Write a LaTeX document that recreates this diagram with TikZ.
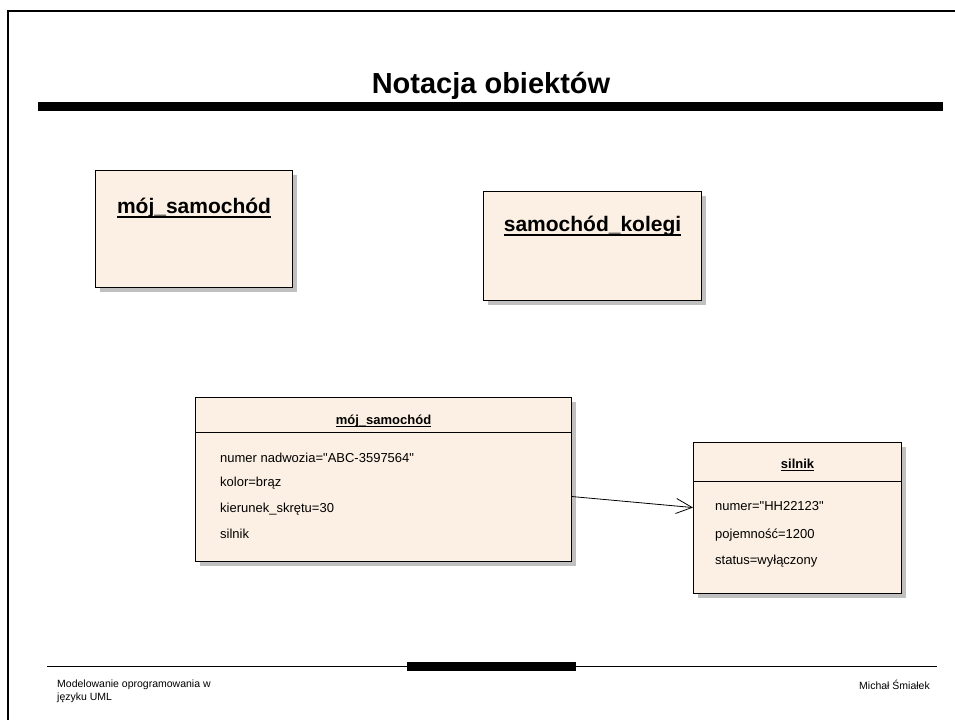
\documentclass[tikz,border=0pt]{standalone}
\usepackage{fontspec}
\setmainfont{Liberation Sans}
\newfontfamily\plainfont{Liberation Sans}
\usetikzlibrary{positioning,shadows,arrows.meta}
\definecolor{objfill}{RGB}{251,240,227}
\definecolor{shadowgray}{RGB}{192,192,192}
\newcommand\ulname[1]{\setbox0\hbox{#1}\rlap{\rule[-0.22em]{\wd0}{0.08em}}\box0}
\newcommand\qt{{\plainfont\char34}}
\tikzset{
	objbox/.style={draw, fill=objfill, line width=1.1pt, inner sep=0pt,
		general shadow={fill=shadowgray, shadow xshift=4pt, shadow yshift=-4pt}},
	bigname/.style={font=\bfseries\fontsize{21}{24}\selectfont, anchor=base, inner sep=0pt},
	objname/.style={font=\bfseries\fontsize{13}{15}\selectfont, anchor=base, inner sep=0pt},
	attr/.style={font=\fontsize{13}{15}\selectfont, anchor=base west, inner sep=0pt},
	foot/.style={font=\fontsize{10.5}{12.5}\selectfont, inner sep=0pt}
}

\begin{document}
\begin{tikzpicture}[x=1pt,y=-1pt]
		\useasboundingbox (0,0) rectangle (955,720);
		\draw[line width=2pt] (955,11) -- (8,11) -- (8,720);
		\node[font=\bfseries\fontsize{29}{34}\selectfont, anchor=base, inner sep=0pt] (title) at (491,93) {Notacja obiektów};
		\fill (38,102) rectangle (943,111);
		% simple objects
		\node[objbox, anchor=north west, minimum width=197pt, minimum height=117pt] (mojA) at (95,170) {};
		\node[bigname] (mojAname) at ([yshift=-43pt]mojA.north) {\ulname{mój\_samochód}};
		\node[objbox, anchor=north west, minimum width=218pt, minimum height=109pt] (kolega) at (483,191) {};
		\node[bigname] (kolegaName) at ([yshift=-40pt]kolega.north) {\ulname{samochód\_kolegi}};
		% objects with attributes
		\node[objbox, anchor=north west, minimum width=376pt, minimum height=164pt] (moj) at (195,397) {};
		\draw[line width=0.8pt] ([yshift=-35pt]moj.north west) -- ([yshift=-35pt]moj.north east);
		\node[objname] (mojName) at ([yshift=-27pt]moj.north) {\ulname{mój\_samochód}};
		\node[attr] (mojNr) at (220,462) {numer nadwozia=\qt ABC-3597564\qt};
		\node[attr] (mojKolor) at (220,486) {kolor=brąz};
		\node[attr] (mojSkret) at (220,512) {kierunek\_skrętu=30};
		\node[attr] (mojSilnik) at (220,538) {silnik};
		\node[objbox, anchor=north west, minimum width=208pt, minimum height=151pt] (silnik) at (693,442) {};
		\draw[line width=0.8pt] ([yshift=-39pt]silnik.north west) -- ([yshift=-39pt]silnik.north east);
		\node[objname] (silnikName) at ([yshift=-26pt]silnik.north) {\ulname{silnik}};
		\node[attr] (silnikNr) at (715,510) {numer=\qt HH22123\qt};
		\node[attr] (silnikPoj) at (715,538) {pojemność=1200};
		\node[attr] (silnikStatus) at (715,564) {status=wyłączony};
		\draw[-{Straight Barb[length=16pt,width=15pt]}, line width=0.8pt] ([yshift=-17pt]moj.east) -- ([yshift=10.5pt]silnik.west);
		% footer
		\draw[line width=1pt] (47,666) -- (937,666);
		\fill (407,662) rectangle (576,671);
		\node[foot, anchor=north west, align=left] (footL) at (57,680) {Modelowanie oprogramowania w\\języku UML};
		\node[foot, anchor=base east] (footR) at (930,689) {Michał Śmiałek};
	\end{tikzpicture}
\end{document}
